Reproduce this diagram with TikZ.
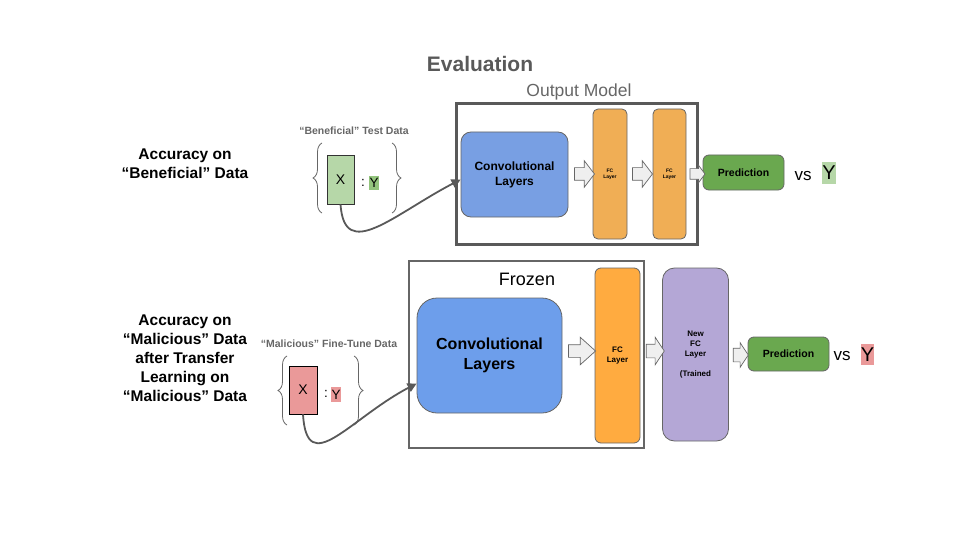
\documentclass[tikz,border=0pt]{standalone}
\usepackage{fontspec}
\setmainfont{Liberation Sans}
\usetikzlibrary{shapes.arrows,arrows.meta,decorations.pathreplacing,calc}
\definecolor{tgray}{HTML}{595959}
\definecolor{lgray}{HTML}{666666}
\definecolor{blueA}{HTML}{789FE3}
\definecolor{blueB}{HTML}{6D9EEB}
\definecolor{orA}{HTML}{F0AE55}
\definecolor{orB}{HTML}{FFAB40}
\definecolor{purp}{HTML}{B4A7D6}
\definecolor{predg}{HTML}{6AA84F}
\definecolor{lgreen}{HTML}{B6D7A8}
\definecolor{mgreen}{HTML}{93C47D}
\definecolor{lred}{HTML}{EA9999}
\definecolor{arrfill}{HTML}{EFEFEF}
\newcommand\fs[2]{\fontsize{#1}{#2}\selectfont}
\tikzset{
  box/.style={draw=lgray, line width=0.8pt, inner sep=0pt, align=center},
  blockarr/.style={single arrow, draw=lgray, fill=arrfill, line width=0.7pt, inner xsep=0pt, minimum width=0pt},
  brc/.style={draw=lgray, line width=0.8pt, decorate, decoration={brace, amplitude=9pt}},
  curvearr/.style={draw=tgray, line width=1.8pt, -{Triangle[length=9pt,width=9pt]}},
  ylab/.style={inner sep=0pt, font=\fs{13.5}{16}},
}
\begin{document}
\begin{tikzpicture}[x=1pt,y=-1pt]
\useasboundingbox (0,0) rectangle (960,540);

% title
\node[text=tgray, font=\fs{21}{24}\bfseries] (title) at (480,64) {Evaluation};

% ---------------- top row ----------------
\node[font=\fs{15.5}{19}\bfseries, align=center] (accA) at (185,164) {Accuracy on\\``Beneficial'' Data};
\node[text=lgray, font=\fs{10.5}{12}\bfseries] (dataA) at (354,131) {``Beneficial'' Test Data};
\node[box, draw=black!80, fill=lgreen, minimum width=27pt, minimum height=49pt, font=\fs{14}{16}] (xa) at (340.5,179.5) {X};
\node[ylab] (colA) at (363,183) {:};
\node[ylab, fill=mgreen, minimum width=10pt, minimum height=14pt] (ya) at (374,183) {Y};
\coordinate (bAl1) at (322,213); \coordinate (bAl2) at (322,143);
\coordinate (bAr1) at (392,143); \coordinate (bAr2) at (392,213);
\draw[brc] (bAl1) -- (bAl2);
\draw[brc] (bAr1) -- (bAr2);

\node[text=lgray, font=\fs{17.5}{20}] (outlab) at (579,92) {Output Model};
\node[draw=tgray, line width=3pt, minimum width=241pt, minimum height=140pt, inner sep=0pt] (outbox) at (576.5,174) {};
\node[box, rounded corners=10pt, fill=blueA, minimum width=107pt, minimum height=85pt, font=\fs{12}{15}\bfseries] (convA) at (514.5,174.5) {Convolutional\\Layers};
\node[box, rounded corners=5pt, fill=orA, minimum width=34pt, minimum height=130pt, font=\fs{5}{6}\bfseries] (fcA1) at (610,174) {FC\\Layer};
\node[box, rounded corners=5pt, fill=orA, minimum width=33pt, minimum height=130pt, font=\fs{5}{6}\bfseries] (fcA2) at (669.5,174) {FC\\Layer};
\node[box, rounded corners=6pt, fill=predg, minimum width=81pt, minimum height=35pt, font=\fs{10.5}{12}\bfseries] (predA) at (743.5,172.5) {Prediction};
\node[font=\fs{17}{20}] (vsA) at (803,176) {vs};
\node[inner sep=0pt, fill=lgreen, minimum width=12pt, minimum height=22pt, font=\fs{20}{22}] (bigyA) at (829,173) {Y};

\node[blockarr, inner ysep=6pt, single arrow head extend=7pt, minimum height=20pt, single arrow tip angle=105] (aA1) at (582,174) {};
\node[blockarr, inner ysep=6pt, single arrow head extend=7pt, minimum height=20pt, single arrow tip angle=105] (aA2) at (640,174) {};
\node[blockarr, inner ysep=5pt, single arrow head extend=3.5pt, minimum height=15pt, single arrow tip angle=107] (aA3) at (695.5,174) {};

\draw[curvearr] (xa.south) .. controls +(4,58) and +(-67,35) .. ([yshift=-5pt]convA.west);

% ---------------- bottom row ----------------
\node[font=\fs{15.5}{19}\bfseries, align=center] (accB) at (185,358) {Accuracy on\\``Malicious'' Data\\after Transfer\\Learning on\\``Malicious'' Data};
\node[text=lgray, font=\fs{10.5}{12}\bfseries] (dataB) at (329,344) {``Malicious'' Fine-Tune Data};
\node[box, draw=black, fill=lred, minimum width=28pt, minimum height=48pt, font=\fs{14}{16}] (xb) at (303,390) {X};
\node[ylab] (colB) at (326,394) {:};
\node[ylab, fill=lred, minimum width=10pt, minimum height=15pt] (yb) at (336,394.5) {Y};
\coordinate (bBl1) at (287,425); \coordinate (bBl2) at (287,356);
\coordinate (bBr1) at (354,356); \coordinate (bBr2) at (354,425);
\draw[brc] (bBl1) -- (bBl2);
\draw[brc] (bBr1) -- (bBr2);

\node[draw=lgray, line width=2pt, minimum width=235pt, minimum height=187pt, inner sep=0pt] (frozbox) at (526.5,354.5) {};
\node[font=\fs{18}{20}] (frozlab) at (527,279) {Frozen};
\node[box, rounded corners=20pt, fill=blueB, minimum width=145pt, minimum height=115pt, font=\fs{16}{20}\bfseries] (convB) at (489.5,355.5) {Convolutional\\Layers};
\node[box, rounded corners=6pt, fill=orB, minimum width=45pt, minimum height=175pt, font=\fs{8}{10}\bfseries] (fcB) at (617.5,355.5) {FC\\Layer};
\node[box, rounded corners=12pt, fill=purp, minimum width=66pt, minimum height=173pt, font=\fs{8}{10}\bfseries] (nfc) at (695.5,354.5) {New\\FC\\Layer\\[10pt](Trained};
\node[box, rounded corners=6pt, fill=predg, minimum width=81pt, minimum height=34pt, font=\fs{10.5}{12}\bfseries] (predB) at (788.5,354) {Prediction};
\node[font=\fs{17}{20}] (vsB) at (842,356) {vs};
\node[inner sep=0pt, fill=lred, minimum width=11pt, minimum height=21pt, font=\fs{20}{22}] (bigyB) at (867.5,354.5) {Y};

\node[blockarr, inner ysep=6pt, single arrow head extend=7.5pt, minimum height=27pt, single arrow tip angle=84] (aB1) at (578.5,351) {};
\node[blockarr, inner ysep=6.5pt, single arrow head extend=7pt, minimum height=18pt, single arrow tip angle=113] (aB2) at (653,351) {};
\node[blockarr, inner ysep=6.5pt, single arrow head extend=5.5pt, minimum height=15pt, single arrow tip angle=113] (aB3) at (738.5,355) {};

\draw[curvearr] (xb.south) .. controls +(4,65) and +(-67,35) .. ([yshift=-28pt]convB.west);
\end{tikzpicture}
\end{document}
